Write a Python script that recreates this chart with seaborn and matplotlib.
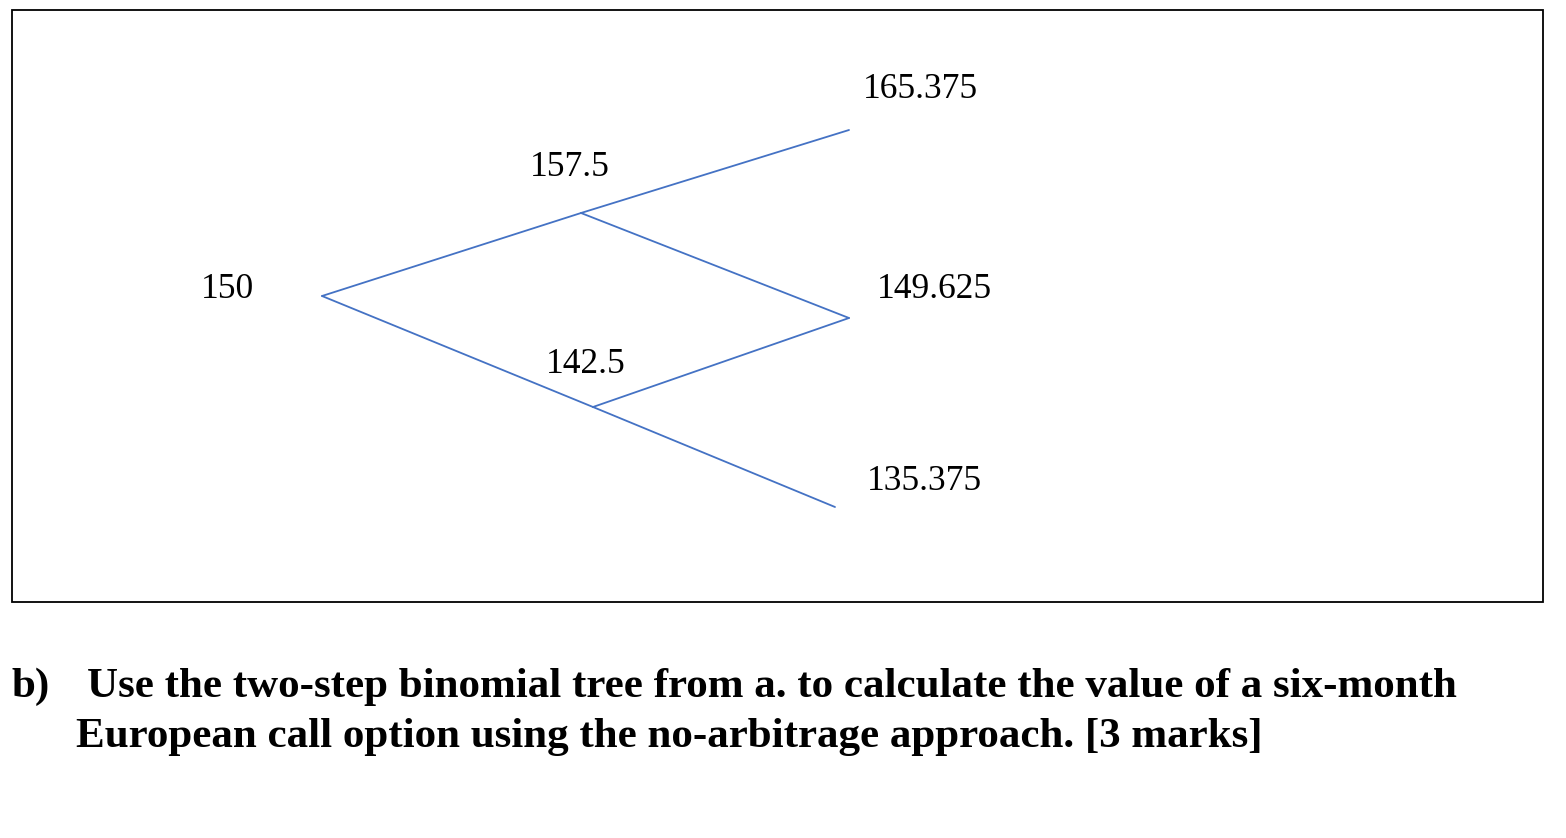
import pandas as pd
import seaborn as sns
import matplotlib.pyplot as plt

# node positions (pixel space) and labels of the two-step tree
node_names = ["S0", "Su", "Sd", "Suu", "Sud", "Sdd"]
node_x = [322, 581, 593, 849, 849, 835]
node_y = [296, 213, 407, 130, 318, 507]
node_labels = ["150", "157.5", "142.5", "165.375", "149.625", "135.375"]
label_x = [227, 570, 586, 920, 934, 924]
label_y = [289, 167, 364, 90, 289, 481]

edges = [("S0", "Su"), ("S0", "Sd"), ("Su", "Suu"), ("Su", "Sud"), ("Sd", "Sud"), ("Sd", "Sdd")]

pos = dict(zip(node_names, zip(node_x, node_y)))
rows = []
for i, (a, b) in enumerate(edges):
    for n in (a, b):
        rows.append({"edge": i, "x": pos[n][0], "y": pos[n][1]})
df = pd.DataFrame(rows)

sns.set_style("white")
fig = plt.figure(figsize=(15.66, 8.38), dpi=100)
ax = fig.add_axes([0, 0, 1, 1])
ax.set_xlim(0, 1566)
ax.set_ylim(838, 0)
ax.axis("off")

# frame around the tree
ax.add_patch(plt.Rectangle((12, 10), 1531, 592, fill=False, edgecolor="black", linewidth=1.3))

sns.lineplot(data=df, x="x", y="y", units="edge", estimator=None, sort=False,
             color="#4472C4", linewidth=1.3, ax=ax)

for lx, ly, t in zip(label_x, label_y, node_labels):
    ax.text(lx, ly, t, ha="center", va="center", fontsize=25.5,
            family="Liberation Serif", color="black")

bold = dict(fontsize=31, family="Liberation Serif", fontweight="bold", va="center", color="black")
ax.text(12, 687, "b)", **bold)
ax.text(87, 687, "Use the two-step binomial tree from a. to calculate the value of a six-month", **bold)
ax.text(76, 737, "European call option using the no-arbitrage approach. [3 marks]", **bold)

fig.savefig("out.png", dpi=100)
